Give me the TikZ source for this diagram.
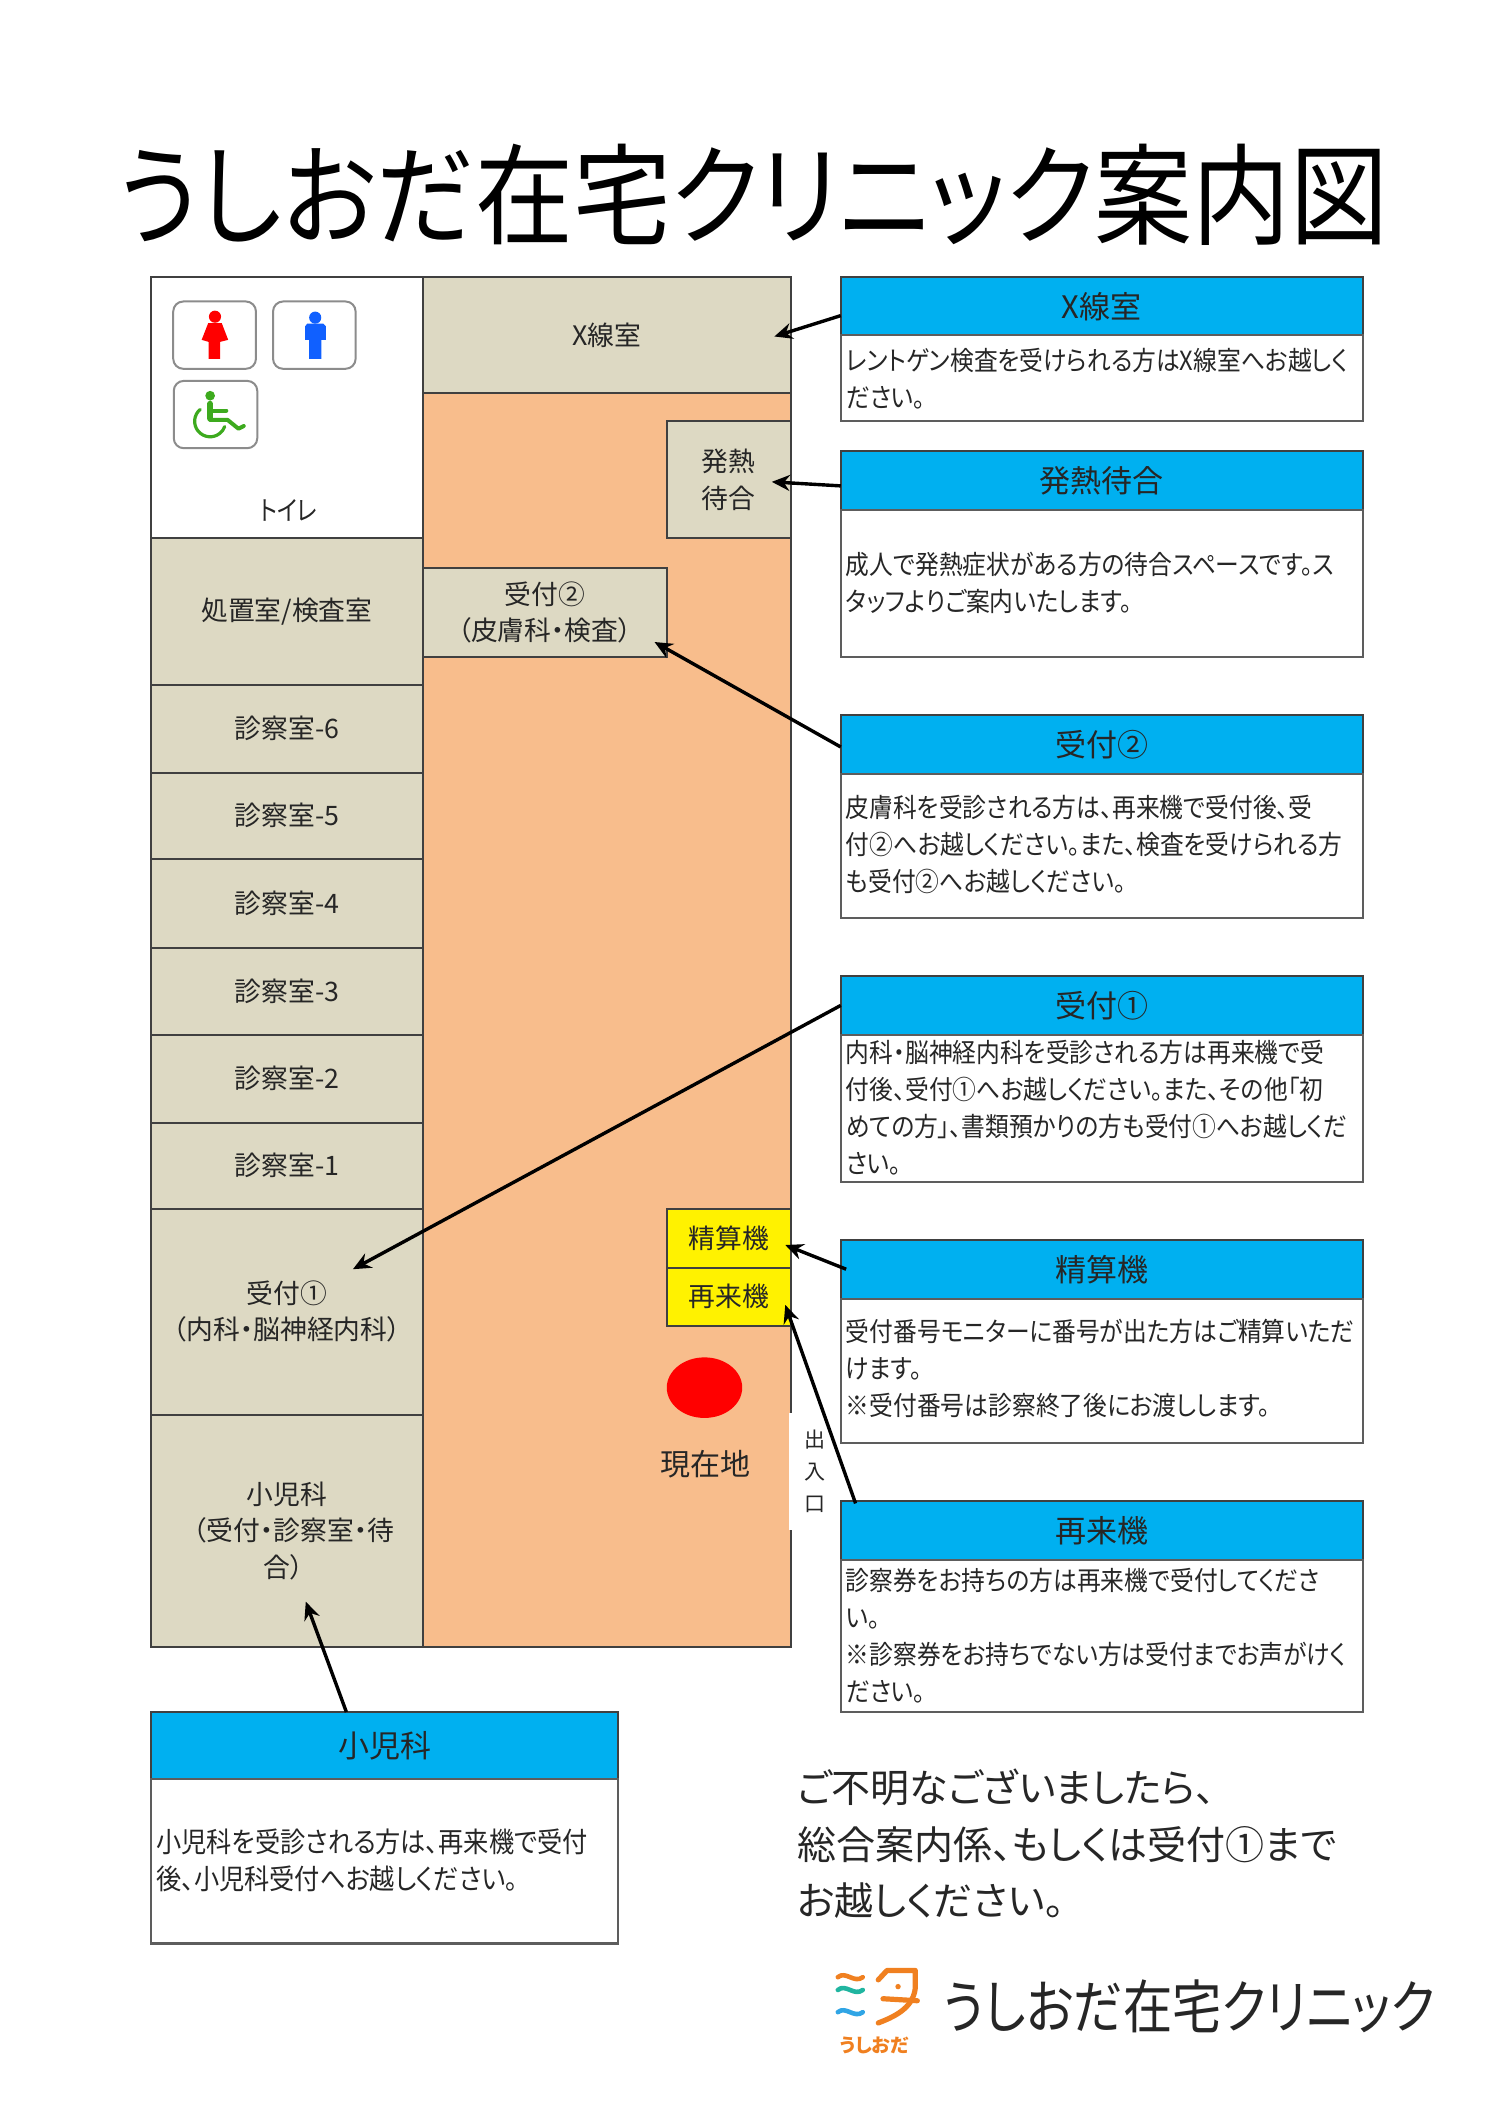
\documentclass[tikz,border=0pt]{standalone}
\usepackage{fontspec}
\setmainfont[RawFeature={+palt}]{Noto Sans CJK JP}
\newfontfamily\narrowbody[RawFeature={+palt},FakeStretch=0.9]{Noto Sans CJK JP}
\newfontfamily\narrowtitle[RawFeature={+palt},FakeStretch=0.89]{Noto Sans CJK JP}
\newfontfamily\narrowlogo[RawFeature={+palt},FakeStretch=0.85]{Noto Sans CJK JP}
\usetikzlibrary{arrows.meta,calc}
\definecolor{tan}{HTML}{DDD9C3}
\definecolor{hall}{HTML}{F8BD8C}
\definecolor{sky}{HTML}{00B0F0}
\definecolor{wall}{HTML}{404040}
\definecolor{ink}{HTML}{262626}
\definecolor{logoor}{HTML}{F08020}
\definecolor{logote}{HTML}{20B5A0}
\definecolor{logobl}{HTML}{30A5E5}
\definecolor{wcblue}{HTML}{1060FF}
\definecolor{wcgreen}{HTML}{3DAA1E}
\newcommand\bx[7]{\pgfmathsetmacro\bxcx{(#3+#5)/2}\pgfmathsetmacro\bxcy{(#4+#6)/2}\pgfmathsetmacro\bxw{(#5-#3)*0.6730}\pgfmathsetmacro\bxh{(#6-#4)*0.6730}\node[#2,minimum width=\bxw pt,minimum height=\bxh pt] (#1) at (\bxcx,\bxcy) {#7};}
\tikzset{
  base/.style={inner sep=0pt,outer sep=0pt,align=center,text=ink,font=\fontsize{13.4}{18.2}\selectfont},
  room/.style={base,draw=wall,line width=1pt,fill=tan},
  plain/.style={base,draw=wall,line width=1pt,fill=white},
  hallbox/.style={base,draw=wall,line width=1pt,fill=hall},
  machine/.style={room,fill=yellow},
  infohead/.style={base,draw=wall,line width=1.1pt,fill=sky,font=\fontsize{15.5}{18}\selectfont},
  infobody/.style={base,draw=wall!85,line width=1.1pt,fill=white},
  bodytxt/.style={base,align=left,anchor=west,font=\narrowbody\fontsize{13.2}{18.5}\selectfont},
  lead/.style={line width=1.7pt,black,-{Stealth[length=9pt,width=8pt,inset=3pt]}},
  icon/.style={draw=black!45,line width=1pt,rounded corners=5pt,fill=white},
}
\begin{document}
\begin{tikzpicture}[x=0.67356pt,y=-0.6730pt]
\useasboundingbox (0,0) rectangle (1112,1567.7);
\fill[white] (0,0) rectangle (1112,1567.7);
% title
\node[base,font=\narrowtitle\fontsize{55}{60}\selectfont,text=black] (title) at (559,145) {うしおだ在宅クリニック案内図};
% floor plan
\bx{hallway}{hallbox}{314}{292}{587}{1224}{}
\bx{wc}{plain}{112}{206}{314}{400}{}
\bx{xray}{room}{314}{206}{587}{292}{X線室}
\bx{fever}{room}{495}{313}{587}{400}{発熱\\待合}
\bx{recv2}{room}{314}{422}{495}{488}{受付②\\（皮膚科・検査）}
\bx{treat}{room}{112}{400}{314}{509}{処置室/検査室}
\bx{ex6}{room}{112}{509}{314}{574}{診察室-6}
\bx{ex5}{room}{112}{574}{314}{638}{診察室-5}
\bx{ex4}{room}{112}{638}{314}{704}{診察室-4}
\bx{ex3}{room}{112}{704}{314}{769}{診察室-3}
\bx{ex2}{room}{112}{769}{314}{834}{診察室-2}
\bx{ex1}{room}{112}{834}{314}{898}{診察室-1}
\bx{recv1}{room}{112}{898}{314}{1051}{受付①\\（内科・脳神経内科）}
\bx{kids}{room}{112}{1051}{314}{1224}{小児科\\\hspace{7pt}（受付・診察室・待\\\hspace{-3pt}合）}
\bx{pay}{machine}{495}{898}{587}{942}{精算機}
\bx{kiosk}{machine}{495}{942}{587}{985}{再来機}
\fill[white] (585.5,1050) rectangle (591,1137);
\node[base,font=\narrowlogo\fontsize{13.4}{18}\selectfont] (wclabel) at (214,379) {トイレ};
\fill[red] (523,1031) ellipse [x radius=28,y radius=22.5];
\node[base,font=\fontsize{15}{18}\selectfont] (here) at (524,1088) {現在地};
\node[base,font=\fontsize{10.5}{16}\selectfont] (door) at (605,1093) {出\\入\\口};
% toilet icons
\draw[icon] (128.6,224) rectangle (190,274);
\draw[icon] (202.7,224) rectangle (264,274);
\draw[icon] (129,283) rectangle (191,333);
\fill[red] (159.6,235.3) circle (4.5);
\fill[red] (154.6,240) -- (164.6,240) -- (169.4,252.5) -- (163.5,254) -- (163.5,266.7) -- (154.9,266.7) -- (154.9,254) -- (149.7,252.5) -- cycle;
\fill[wcblue] (234,236) circle (4.5);
\fill[wcblue] (228,240.5) -- (240,240.5) -- (242,242.5) -- (242,252.5) -- (238.5,252.5) -- (238.5,266.7) -- (229.5,266.7) -- (229.5,252.5) -- (226.5,252.5) -- (226.5,242.5) -- cycle;
\fill[wcgreen] (156,294) circle (3.6);
\begin{scope}[draw=wcgreen,line cap=round,line join=round]
\draw[line width=3pt] (156,300) -- (156,311);
\draw[line width=2pt] (156,312) -- (169,312) -- (177,318.5) -- (181,316.5);
\draw[line width=2pt] (156,305) -- (168,305);
\draw[line width=1.6pt] (148.6,304.2) arc[start angle=230,end angle=20,radius=11.5];
\end{scope}
% info boxes
\bx{hX}{infohead}{624}{206}{1012}{249}{X線室}
\bx{bX}{infobody}{624}{249}{1012}{313}{}
\node[bodytxt] (tX) at (628,281) {レントゲン検査を受けられる方はX線室へお越しく\\ださい。};
\bx{hF}{infohead}{624}{335}{1012}{379}{発熱待合}
\bx{bF}{infobody}{624}{379}{1012}{488}{}
\node[bodytxt] (tF) at (628,433) {成人で発熱症状がある方の待合スペースです。ス\\タッフよりご案内いたします。};
\bx{hR2}{infohead}{624}{531}{1012}{575}{受付②}
\bx{bR2}{infobody}{624}{575}{1012}{682}{}
\node[bodytxt] (tR2) at (628,627.5) {皮膚科を受診される方は、再来機で受付後、受\\付②へお越しください。また、検査を受けられる方\\も受付②へお越しください。};
\bx{hR1}{infohead}{624}{725}{1012}{769}{受付①}
\bx{bR1}{infobody}{624}{769}{1012}{878}{}
\node[bodytxt] (tR1) at (628,823) {内科・脳神経内科を受診される方は再来機で受\\付後、受付①へお越しください。また、その他「初\\めての方」、書類預かりの方も受付①へお越しくだ\\さい。};
\bx{hP}{infohead}{624}{921}{1012}{965}{精算機}
\bx{bP}{infobody}{624}{965}{1012}{1072}{}
\node[bodytxt] (tP) at (628,1017) {受付番号モニターに番号が出た方はご精算いただ\\けます。\\※受付番号は診察終了後にお渡しします。};
\bx{hK}{infohead}{624}{1115}{1012}{1159}{再来機}
\bx{bK}{infobody}{624}{1159}{1012}{1272}{}
\node[bodytxt] (tK) at (628,1215) {診察券をお持ちの方は再来機で受付してくださ\\い。\\※診察券をお持ちでない方は受付までお声がけく\\ださい。};
\bx{hC}{infohead}{112}{1272}{459}{1322}{小児科}
\bx{bC}{infobody}{112}{1322}{459}{1444}{}
\node[bodytxt,font=\narrowbody\fontsize{14}{18.5}\selectfont] (tC) at (116,1382) {小児科を受診される方は、再来機で受付\\後、小児科受付へお越しください。};
% connectors
\draw[lead] ($(hX.west)+(0,7)$) -- ($(xray.east)+(-12,1)$);
\draw[lead] ($(hF.west)+(0,4)$) -- ($(fever.east)+(-14,1.5)$);
\draw[lead] ($(hR2.west)+(0,2)$) -- ($(recv2.south east)+(-9,-11)$);
\draw[lead] (hR1.west) -- ($(recv1.south)+(49,-108)$);
\draw[lead] ($(hP.west)+(4,0)$) -- ($(pay.east)+(-4,5)$);
\draw[lead] ($(hK.north west)+(11,2)$) -- ($(kiosk.east)+(-4,6)$);
\draw[lead] ($(hC.north west)+(145,0)$) -- ($(kids.north)+(14,139)$);
% notice
\node[bodytxt,font=\fontsize{19.5}{28.3}\selectfont] (note) at (592,1370) {ご不明なございましたら、\\総合案内係、もしくは受付①まで\\お越しください。};
% logo
\begin{scope}[line width=2.3pt,line cap=round,line join=round]
\draw[logoor] (622,1469) .. controls (628,1464) and (634,1474) .. (640.5,1469);
\draw[logote] (622,1478.5) .. controls (628,1473.5) and (634,1483.5) .. (640.5,1478.5);
\draw[logobl] (622,1495) .. controls (628,1490) and (634,1500) .. (640.5,1495);
\draw[logoor,line width=2.6pt] (652,1471) -- (658.5,1464) -- (679.5,1464) -- (679.5,1477) .. controls (678,1490) and (668,1497) .. (652,1503);
\draw[logoor,line width=2.6pt] (655.5,1485) -- (681,1486.5);
\fill[logoor] (666.7,1476) circle (2);
\end{scope}
\node[base,text=logoor,font=\fontsize{9.5}{10}\bfseries\selectfont] (logosub) at (649,1520) {うしおだ};
\node[base,text=ink,font=\narrowlogo\fontsize{29}{32}\selectfont] (logotext) at (883,1491) {うしおだ在宅クリニック};
\end{tikzpicture}
\end{document}
